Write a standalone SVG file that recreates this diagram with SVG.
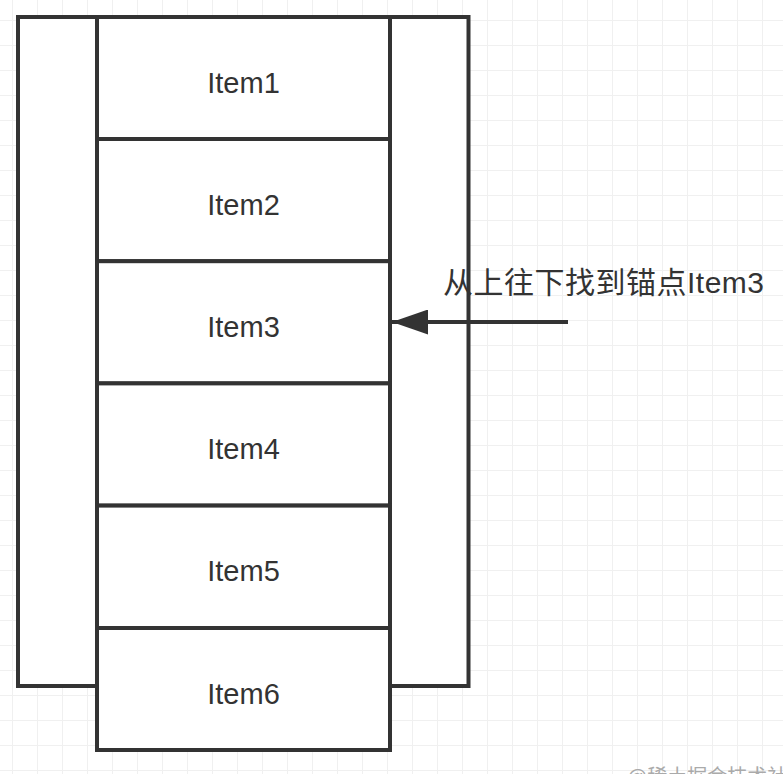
<svg xmlns="http://www.w3.org/2000/svg" width="783" height="774" viewBox="0 0 783 774">
  <defs>
    <pattern id="grid" x="12" y="20" width="25" height="25" patternUnits="userSpaceOnUse">
      <path d="M0.5 0V25M0 0.5H25" fill="none" stroke="#f0f0f0" stroke-width="1"/>
    </pattern>
    <marker id="arrow" viewBox="0 0 36 25" refX="36" refY="12.5" markerWidth="36" markerHeight="25" markerUnits="userSpaceOnUse" orient="auto">
      <path d="M0 0L36 12.5L0 25Z" fill="#333"/>
    </marker>
  </defs>
  <style>
    .box { fill: #fff; stroke: #333; stroke-width: 4; }
    .lbl { font-family: "Liberation Sans", "Noto Sans CJK SC", sans-serif; font-size: 29px; fill: #333; text-anchor: middle; }
    .note { font-family: "Liberation Sans", "Noto Sans CJK SC", sans-serif; font-size: 30px; fill: #333; letter-spacing: 0.5px; }
    .wm { font-family: "Liberation Sans", "Noto Sans CJK SC", sans-serif; font-size: 20px; fill: #aaa; }
  </style>
  <rect width="783" height="774" fill="#fff"/>
  <rect width="783" height="774" fill="url(#grid)"/>

  <g id="container">
    <rect class="box" x="18" y="17" width="450.5" height="669"/>
  </g>

  <g id="item1">
    <rect class="box" x="97" y="17" width="293" height="122"/>
    <text class="lbl" x="243.5" y="92.5">Item1</text>
  </g>
  <g id="item2">
    <rect class="box" x="97" y="139" width="293" height="122.2"/>
    <text class="lbl" x="243.5" y="214.5">Item2</text>
  </g>
  <g id="item3">
    <rect class="box" x="97" y="261.2" width="293" height="122.2"/>
    <text class="lbl" x="243.5" y="336.8">Item3</text>
  </g>
  <g id="item4">
    <rect class="box" x="97" y="383.4" width="293" height="122.2"/>
    <text class="lbl" x="243.5" y="459">Item4</text>
  </g>
  <g id="item5">
    <rect class="box" x="97" y="505.6" width="293" height="122.4"/>
    <text class="lbl" x="243.5" y="581.3">Item5</text>
  </g>
  <g id="item6">
    <rect class="box" x="97" y="628" width="293" height="122"/>
    <text class="lbl" x="243.5" y="703.5">Item6</text>
  </g>

  <g id="connectors">
    <line x1="568" y1="322" x2="392" y2="322" stroke="#333" stroke-width="4" marker-end="url(#arrow)"/>
  </g>

  <g id="note">
    <text class="note" x="443" y="293">从上往下找到锚点Item3</text>
  </g>

  <text class="wm" x="627" y="784">@稀土掘金技术社区</text>
</svg>
